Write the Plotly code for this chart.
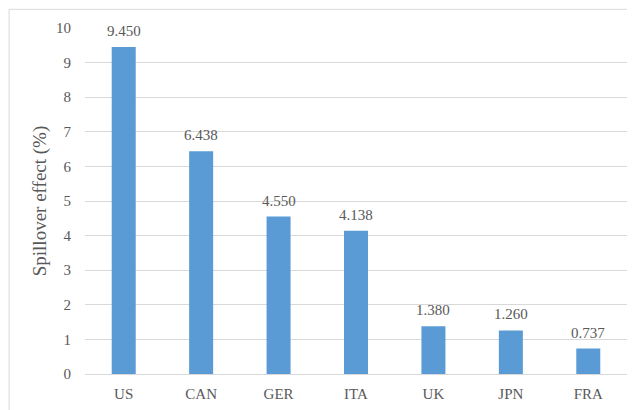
import plotly.graph_objects as go

countries = ["US", "CAN", "GER", "ITA", "UK", "JPN", "FRA"]
spillover = [9.450, 6.438, 4.550, 4.138, 1.380, 1.260, 0.737]
labels = ["9.450", "6.438", "4.550", "4.138", "1.380", "1.260", "0.737"]
yticks = list(range(0, 11))

font_family = "Liberation Serif, Times New Roman, serif"
text_color = "#595959"

fig = go.Figure(go.Bar(
    x=countries, y=spillover,
    marker=dict(color="#5B9BD5", line=dict(width=0)),
    cliponaxis=False,
))

for c, v, t in zip(countries, spillover, labels):
    fig.add_annotation(x=c, y=v, text=t, showarrow=False, yanchor="bottom", yshift=6,
                       font=dict(family=font_family, size=15, color=text_color))

fig.update_layout(
    width=635, height=410,
    margin=dict(l=77, r=16, t=20, b=44, autoexpand=False),
    paper_bgcolor="white", plot_bgcolor="white",
    bargap=0.69,
    showlegend=False,
    font=dict(family=font_family, size=15, color=text_color),
    xaxis=dict(showgrid=False, showline=True, linecolor="#d9d9d9", linewidth=1,
               ticks="", automargin=False, ticklabelstandoff=6,
               tickfont=dict(size=15, color=text_color)),
    yaxis=dict(range=[0, 10], tickvals=yticks, showgrid=True, gridcolor="#d9d9d9",
               gridwidth=1, zeroline=False, showline=False, ticks="",
               ticklabelstandoff=13, automargin=False,
               tickfont=dict(size=15, color=text_color),
               title=dict(text="Spillover effect (%)", font=dict(size=19, color=text_color), standoff=4)),
    shapes=[dict(type="rect", xref="paper", yref="paper",
                 x0=-0.14, x1=1.1, y0=-0.2, y1=1.054,
                 line=dict(color="#d9d9d9", width=1), fillcolor="rgba(0,0,0,0)")],
)

fig.write_html("out.html")
